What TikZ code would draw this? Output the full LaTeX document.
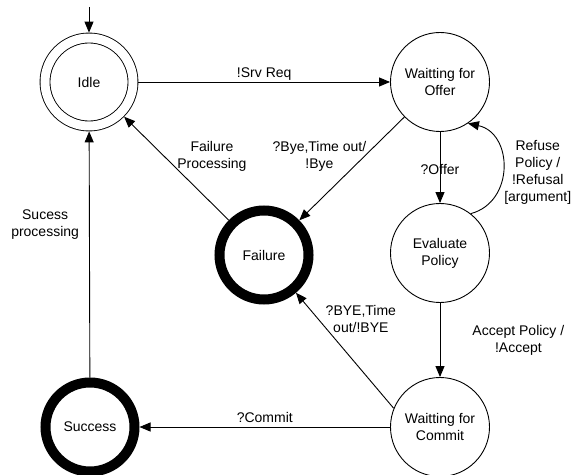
\documentclass[tikz,border=0pt]{standalone}
\usepackage{fontspec}
\setmainfont{Liberation Sans}
\usetikzlibrary{arrows.meta}
\begin{document}
\begin{tikzpicture}[x=1pt,y=1pt,
  every node/.style={font=\fontsize{14}{17}\selectfont, align=center},
  state/.style={circle, draw, line width=0.9pt, minimum size=99pt, inner sep=0pt},
  finalstate/.style={circle, draw, line width=10pt, minimum size=89pt, inner sep=0pt},
  initstate/.style={circle, draw, line width=0.9pt, double, double distance=9pt, minimum size=88pt, outer sep=5.4pt, inner sep=0pt},
  arr/.style={-{Triangle[length=11pt,width=9pt]}, line width=0.9pt},
  lbl/.style={inner sep=0pt}]
\useasboundingbox (0,0) rectangle (577,474);
\node[initstate] (idle) at (89,392) {Idle};
\node[state] (offer) at (440,392) {Waitting for\\Offer};
\node[state] (eval) at (440,221) {Evaluate\\Policy};
\node[finalstate] (failure) at (264,219) {Failure};
\node[state] (commit) at (440,47) {Waitting for\\Commit};
\node[finalstate] (success) at (90,47) {Success};
\coordinate (start) at (89,467);

\draw[arr] (start) -- (idle);
\draw[arr] (idle) -- (offer) node[lbl, midway, anchor=base, yshift=4.5pt] {!Srv Req};
\draw[arr] (offer) -- (failure) node[lbl, pos=0.38, xshift=-45pt] {?Bye,Time out/\\!Bye};
\draw[arr] (failure) -- (idle) node[lbl, pos=0.62, xshift=48pt] {Failure\\Processing};
\draw[arr] (offer) -- (eval) node[lbl, midway, yshift=-2.5pt] {?Offer};
\draw[arr] (eval.52) to[out=15, in=-12, looseness=1.3] node[lbl, pos=0.5, anchor=west, xshift=1pt, yshift=-5pt] {Refuse\\Policy /\\!Refusal\\{[argument]}} (offer.-56);
\draw[arr] (eval) -- (commit) node[lbl, midway, anchor=west, xshift=32pt] {Accept Policy /\\!Accept};
\draw[arr] (commit.158) -- (failure) node[lbl, pos=0.776, xshift=43pt] {?BYE,Time\\out/!BYE};
\draw[arr] (commit) -- (success) node[lbl, midway, anchor=base, yshift=4.5pt] {?Commit};
\draw[arr] (success) -- (idle) node[lbl, pos=0.62, anchor=east, xshift=-10pt] {Sucess\\processing};
\end{tikzpicture}
\end{document}
